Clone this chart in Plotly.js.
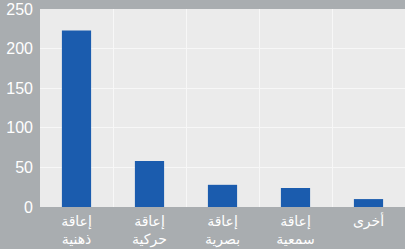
<!DOCTYPE html>
<html><head><meta charset="utf-8">
<script src="https://cdn.plot.ly/plotly-3.0.1.min.js"></script>
<style>html,body{margin:0;padding:0;background:#a9adb0;}#c{width:405px;height:249px;}</style>
</head><body><div id="c"></div>
<script>
const categories = ["إعاقة<br>ذهنية", "إعاقة<br>حركية", "إعاقة<br>بصرية", "إعاقة<br>سمعية", "أخرى"];
const values = [223, 58, 28, 24, 10];
const yTicks = [0, 50, 100, 150, 200, 250];

Plotly.newPlot('c', [{
  type: 'bar', x: categories, y: values,
  marker: {color: '#1b5cae'}, width: 0.4, hoverinfo: 'none'
}], {
  width: 405, height: 249,
  margin: {l: 40, r: 0, t: 9, b: 42},
  paper_bgcolor: '#a9adb0', plot_bgcolor: '#ebebeb',
  showlegend: false,
  xaxis: {type: 'category', tickson: 'boundaries', showgrid: true, gridcolor: '#f7f7f7', gridwidth: 1,
    ticks: '', ticklabelstandoff: 4, tickfont: {color: '#ffffff', size: 14, family: 'DejaVu Sans'}, zeroline: false, fixedrange: true},
  yaxis: {range: [0, 250], tickvals: yTicks, showgrid: true, gridcolor: '#f7f7f7', gridwidth: 1,
    zeroline: false, ticks: '', ticklabelstandoff: 6,
    tickfont: {color: '#ffffff', size: 16, family: 'Liberation Sans'}, fixedrange: true}
}, {staticPlot: true});
</script></body></html>
